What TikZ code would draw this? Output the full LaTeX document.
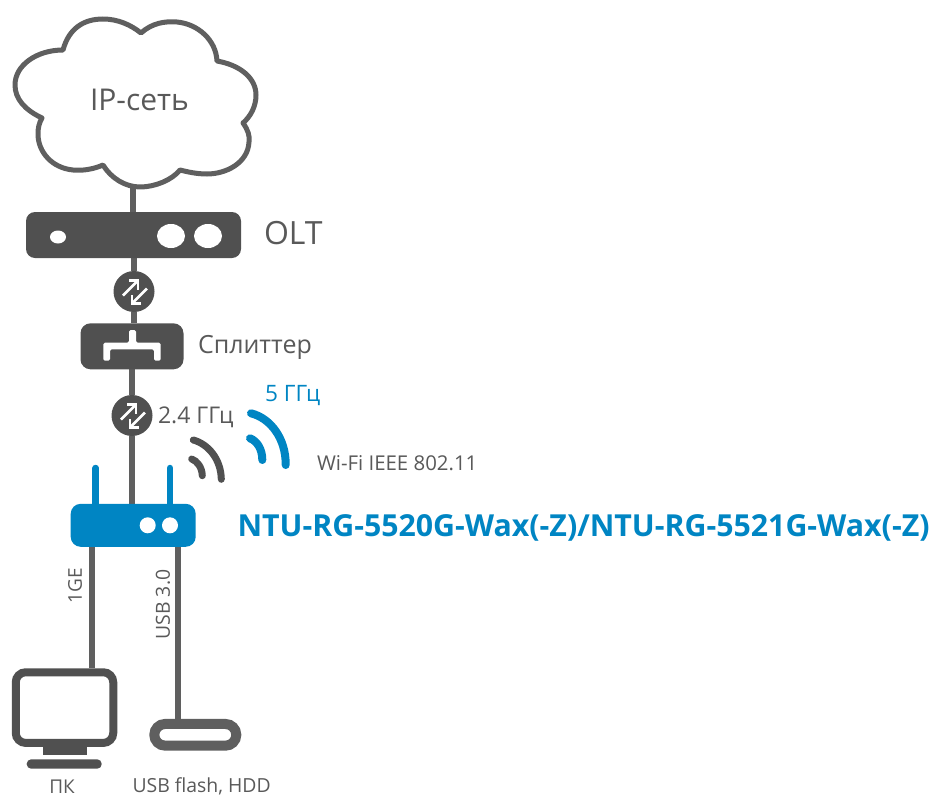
\documentclass[tikz,border=0pt]{standalone}
\usepackage{fontspec}
\setmainfont{Open Sans}
\usetikzlibrary{backgrounds,calc}
\definecolor{dk}{HTML}{505050}
\definecolor{ln}{HTML}{5F5F5F}
\definecolor{bl}{HTML}{0085C3}
\definecolor{tx}{HTML}{595959}
\tikzset{
  box/.style={draw=none,fill=dk,rectangle,rounded corners=#1,inner sep=0pt,outer sep=0pt},
  box/.default=10pt,
  link/.style={draw=ln,line width=6.4pt},
  lbl/.style={text=tx,inner sep=0pt,outer sep=0pt,anchor=west},
  wave/.style={line width=8pt,line cap=round,draw=bl},
  dot/.style={fill=white,draw=none},
  xchg/.style={fill=dk,draw=none,circle,minimum size=41pt,inner sep=0pt,outer sep=0pt},
  xarrow/.style={draw=white,line width=2.6pt,line join=miter}
}
\newcommand{\xarrows}[1]{%
  \draw[xarrow] ($(#1)+(-11,4)$) -- ($(#1)+(3,-10)$);
  \draw[xarrow] ($(#1)+(-5,-11)$) -- ($(#1)+(4,-11)$) -- ($(#1)+(4,-2)$);
  \draw[xarrow] ($(#1)+(13,-3)$) -- ($(#1)+(-1,11)$);
  \draw[xarrow] ($(#1)+(7,12)$) -- ($(#1)+(-2,12)$) -- ($(#1)+(-2,3)$);
}
\begin{document}
\begin{tikzpicture}[x=1pt,y=-1pt]
\useasboundingbox (0,0) rectangle (933,797);
% cloud
\draw[draw=ln,line width=5pt,fill=white,line join=round]
  (63,50) .. controls (69,28) and (84,19) .. (103,19)
  .. controls (118,19) and (131,25) .. (141,33)
  .. controls (152,23) and (165,21) .. (177,22)
  .. controls (198,24) and (216,40) .. (217,61)
  .. controls (240,65) and (256,78) .. (256,95)
  .. controls (256,106) and (251,116) .. (243,123)
  .. controls (248,130) and (250,136) .. (249,142)
  .. controls (248,163) and (226,174) .. (207,174)
  .. controls (197,174) and (188,172) .. (180,170)
  .. controls (172,180) and (155,187) .. (140,187)
  .. controls (125,187) and (111,178) .. (103,165)
  .. controls (94,169) and (83,171) .. (73,170)
  .. controls (52,168) and (38,152) .. (38,134)
  .. controls (38,128) and (39,123) .. (42,118)
  .. controls (25,110) and (15,99) .. (15,85)
  .. controls (15,65) and (37,50) .. (63,50) -- cycle;
\coordinate (cloudb) at (133,188);
\node[lbl,anchor=center,font=\fontsize{30}{32}\selectfont] (ip) at (139.5,100) {IP-сеть};
% OLT
\node[box=9pt,minimum width=215pt,minimum height=46pt] (olt) at (133.5,235) {};
\fill[white] (58,237) ellipse [x radius=8,y radius=6.5];
\fill[white] (171,236) ellipse [x radius=14,y radius=12];
\fill[white] (208,236) ellipse [x radius=14,y radius=12];
\node[lbl,font=\fontsize{32}{34}\selectfont] (oltl) at (264,233) {OLT};
% exchanges
\node[xchg] (x1) at (134,291.5) {};
\xarrows{x1}
\node[xchg] (x2) at (132,415.5) {};
\xarrows{x2}
% splitter
\node[box=10pt,minimum width=103pt,minimum height=46pt] (spl) at (132,346.3) {};
\fill[white,rounded corners=1.5pt] (103.3,360.7) -- (103.3,342.7) -- (129,342.7) -- (129,330) -- (136,330) -- (136,342.7) -- (160.7,342.7) -- (160.7,360.7) -- (154,360.7) -- (154,349.3) -- (110,349.3) -- (110,360.7) -- cycle;
\node[lbl,font=\fontsize{25}{27}\selectfont] (spll) at (198,347) {Сплиттер};
% router
\coordinate (ant1) at (95.7,468);
\coordinate (ant2) at (170,468);
\node[box=10pt,fill=bl,minimum width=125pt,minimum height=43pt] (rt) at (133.2,525.3) {};
\fill[white] (147.7,525.3) circle (8);
\fill[white] (170,525.3) circle (8);
\node[lbl,font=\bfseries\fontsize{30.3}{32}\selectfont,text=bl] (name) at (237.5,528) {NTU-RG-5520G-Wax(-Z)/NTU-RG-5521G-Wax(-Z)};
% waves
\draw[wave,draw=dk,line width=7pt] (193.3,440) .. controls (208,444) and (221,459) .. (221.3,479.3);
\draw[wave,draw=dk,line width=7pt] (191.7,459) .. controls (197,461) and (202,467) .. (202.3,475.7);
\draw[wave] (251,413.3) .. controls (270,418) and (286,438) .. (285.7,465);
\draw[wave] (250,438.3) .. controls (257,441) and (262.3,449) .. (262.3,460);
\node[lbl,font=\fontsize{23}{25}\selectfont] (g24) at (158,417) {2.4 ГГц};
\node[lbl,font=\fontsize{22.6}{24}\selectfont,text=bl] (g5) at (265,396) {5 ГГц};
\node[lbl,font=\fontsize{20.4}{22}\selectfont] (wifi) at (317,463) {Wi-Fi IEEE 802.11};
% PC
\node[draw=dk,line width=8pt,fill=white,rectangle,rounded corners=10pt,inner sep=0pt,minimum width=97.5pt,minimum height=70.7pt] (pc) at (64.5,707.6) {};
\fill[dk] (42.7,747) rectangle (87.3,755);
\node[box=4.5pt,minimum width=75pt,minimum height=9.4pt] (pcb) at (64.2,764) {};
\node[lbl,anchor=center,font=\fontsize{19}{21}\selectfont] (pcl) at (62,786.5) {ПК};
% USB
\node[draw=ln,line width=10pt,fill=white,rectangle,rounded corners=10.8pt,inner sep=0pt,minimum width=82pt,minimum height=21.7pt] (usb) at (195.3,734.8) {};
\node[lbl,font=\fontsize{19.4}{21}\selectfont] (usbl) at (132.5,786) {USB flash, HDD};
% rotated labels
\node[lbl,anchor=center,rotate=90,font=\fontsize{19}{21}\selectfont] (ge) at (75,586) {1GE};
\node[lbl,anchor=center,rotate=90,font=\fontsize{19.4}{21}\selectfont] (u3) at (163,604.5) {USB 3.0};
% connectors
\begin{scope}[on background layer]
\draw[link] (cloudb) -- (olt.north -| cloudb);
\draw[link] (olt.south -| x1) -- (x1);
\draw[link] (x1) -- (x1 |- spl.north);
\draw[link] (spl) -- (x2);
\draw[link] (x2) -- (x2 |- rt.north);
\draw[draw=bl,line width=6.5pt,line cap=round] (ant1) -- (ant1 |- rt.north);
\draw[draw=bl,line width=6.5pt,line cap=round] (ant2) -- (ant2 |- rt.north);
\draw[link] (rt.south -| 92,0) -- (pc.north -| 92,0);
\draw[link] (rt.south -| 178,0) -- (usb.north -| 178,0);
\end{scope}
\end{tikzpicture}
\end{document}
